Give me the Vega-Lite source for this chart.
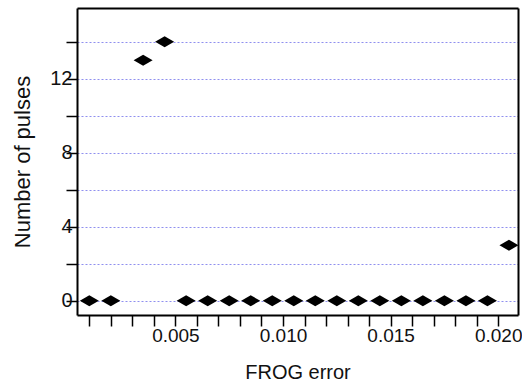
{
  "$schema": "https://vega.github.io/schema/vega-lite/v6.json",
  "width": 441,
  "height": 307,
  "autosize": "none",
  "padding": {"left": 77, "top": 8, "right": 4, "bottom": 71},
  "background": "white",
  "config": {
    "view": {"stroke": null},
    "axis": {
      "labelFont": "Liberation Sans",
      "titleFont": "Liberation Sans",
      "labelFontSize": 19,
      "titleFontSize": 20,
      "titleFontWeight": "normal",
      "labelColor": "#111",
      "titleColor": "#111",
      "domainColor": "black",
      "domainWidth": 2,
      "tickColor": "black",
      "tickWidth": 1.5,
      "zindex": 1
    }
  },
  "data": {
    "values": [
      {"err": 0.001, "n": 0},
      {"err": 0.002, "n": 0},
      {"err": 0.0035, "n": 13},
      {"err": 0.0045, "n": 14},
      {"err": 0.0055, "n": 0},
      {"err": 0.0065, "n": 0},
      {"err": 0.0075, "n": 0},
      {"err": 0.0085, "n": 0},
      {"err": 0.0095, "n": 0},
      {"err": 0.0105, "n": 0},
      {"err": 0.0115, "n": 0},
      {"err": 0.0125, "n": 0},
      {"err": 0.0135, "n": 0},
      {"err": 0.0145, "n": 0},
      {"err": 0.0155, "n": 0},
      {"err": 0.0165, "n": 0},
      {"err": 0.0175, "n": 0},
      {"err": 0.0185, "n": 0},
      {"err": 0.0195, "n": 0},
      {"err": 0.0205, "n": 3}
    ]
  },
  "layer": [
    {
      "mark": {
        "type": "point",
        "shape": "M-1,0L0,-0.58L1,0L0,0.58Z",
        "filled": true,
        "color": "black",
        "opacity": 1,
        "size": 361
      },
      "encoding": {
        "x": {
          "field": "err",
          "type": "quantitative",
          "scale": {"domain": [0.000428, 0.02092], "nice": false, "zero": false},
          "axis": {
            "title": "FROG error",
            "values": [0.001, 0.002, 0.003, 0.004, 0.005, 0.006, 0.007, 0.008, 0.009, 0.010, 0.011, 0.012, 0.013, 0.014, 0.015, 0.016, 0.017, 0.018, 0.019, 0.020],
            "format": ".3f",
            "labelExpr": "round(datum.value*1000) % 5 === 0 ? datum.label : ''",
            "tickSize": 11,
            "encode": {
              "ticks": {
                "update": {
                  "y2": [
                    {"test": "round(datum.value*1000) % 5 === 0", "value": -11},
                    {"value": -6}
                  ]
                }
              }
            },
            "labelPadding": 0,
            "titlePadding": 17,
            "grid": false,
            "labelFlush": false
          }
        },
        "y": {
          "field": "n",
          "type": "quantitative",
          "scale": {"domain": [-0.77, 15.82], "nice": false, "zero": false},
          "axis": {
            "title": "Number of pulses",
            "titleFontSize": 22,
            "values": [0, 2, 4, 6, 8, 10, 12, 14],
            "labelExpr": "datum.value % 4 === 0 ? datum.label : ''",
            "labelFontSize": 20,
            "tickSize": 11,
            "encode": {
              "ticks": {
                "update": {
                  "x2": [
                    {"test": "datum.value % 4 === 0", "value": 11},
                    {"value": 5}
                  ]
                }
              }
            },
            "labelPadding": -6,
            "titlePadding": 15,
            "grid": true,
            "gridColor": "#8f8fef",
            "gridDash": [2, 2],
            "gridWidth": 1,
            "labelFlush": false
          }
        }
      }
    },
    {
      "mark": {"type": "point", "opacity": 0},
      "encoding": {
        "x": {
          "field": "err",
          "type": "quantitative",
          "axis": {"orient": "top", "labels": false, "ticks": false, "title": null, "grid": false}
        },
        "y": {
          "field": "n",
          "type": "quantitative",
          "axis": {"orient": "right", "labels": false, "ticks": false, "title": null, "grid": false}
        }
      }
    }
  ],
  "resolve": {"axis": {"x": "independent", "y": "independent"}}
}
